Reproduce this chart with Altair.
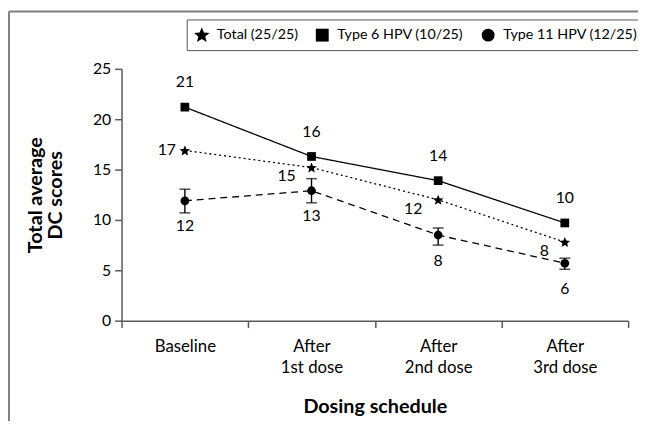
import altair as alt
import pandas as pd

# ---- data ----
doses = ["Baseline", "After|1st dose", "After|2nd dose", "After|3rd dose"]
series_names = ["Total (25/25)", "Type 6 HPV (10/25)", "Type 11 HPV (12/25)"]

total_vals = [16.9, 15.2, 12.0, 7.8]
type6_vals = [21.2, 16.3, 13.9, 9.7]
type11_vals = [11.9, 12.9, 8.5, 5.7]
type11_lo = [10.7, 11.7, 7.5, 5.1]
type11_hi = [13.05, 14.1, 9.2, 6.2]

total_labels = ["17", "15", "12", "8"]
type6_labels = ["21", "16", "14", "10"]
type11_labels = ["12", "13", "8", "6"]

rows = []
for name, vals, labs in zip(series_names,
                            [total_vals, type6_vals, type11_vals],
                            [total_labels, type6_labels, type11_labels]):
    for d, v, l in zip(doses, vals, labs):
        rows.append({"dose": d, "series": name, "value": v, "label": l})
df = pd.DataFrame(rows)

err_df = pd.DataFrame({"dose": doses, "lo": type11_lo, "hi": type11_hi})

FONT = "Lato"
AX = "#595959"
STAR = ("M0,-1.149 L0.337,-0.342 L1.208,-0.272 L0.544,0.297 L0.747,1.148 "
        "L0,0.692 L-0.747,1.148 L-0.544,0.297 L-1.208,-0.272 L-0.337,-0.342 Z")

x_enc = alt.X(
    "dose:N", sort=doses, bandPosition=0.5,
    scale=alt.Scale(type="band", paddingInner=0, paddingOuter=0),
    axis=alt.Axis(
        title="Dosing schedule", tickBand="extent", labelAngle=0,
        labelExpr="split(datum.label, '|')", labelLineHeight=22,
        labelFontSize=17, labelPadding=11, tickSize=7,
        titleFontSize=20, titleFontWeight="bold", titlePadding=21,
    ),
)
y_enc = alt.Y(
    "value:Q",
    scale=alt.Scale(domain=[0, 25], nice=False),
    axis=alt.Axis(
        title=["Total average", "DC scores"], values=[0, 5, 10, 15, 20, 25],
        labelFontSize=16, labelPadding=4, tickSize=7,
        titleFontSize=20, titleFontWeight="bold", titlePadding=27,
        titleLineHeight=21,
    ),
)

base = alt.Chart(df)


def series_line(name, dash):
    return base.transform_filter(alt.datum.series == name).mark_line(
        color="black", strokeWidth=1.3, strokeDash=dash
    ).encode(x=x_enc, y=y_enc)


line_total = series_line(series_names[0], [2, 3])
line_t6 = series_line(series_names[1], [1, 0])
line_t11 = series_line(series_names[2], [7, 5])

points = base.mark_point(filled=True, color="black", opacity=1, size=78).encode(
    x=x_enc, y=y_enc,
    shape=alt.Shape(
        "series:N",
        scale=alt.Scale(domain=series_names, range=[STAR, "square", "circle"]),
        legend=alt.Legend(
            title=None, orient="none", legendX=66, legendY=-50,
            direction="horizontal", strokeColor="#555555", padding=8,
            symbolFillColor="black", symbolStrokeColor="black",
            symbolStrokeWidth=0, symbolSize=170, symbolOpacity=1,
            labelFont=FONT, labelFontSize=14.5, labelColor="black",
            labelOffset=8, columnPadding=17,
        ),
    ),
)

err_base = alt.Chart(err_df)
err_rule = err_base.mark_rule(color="black", strokeWidth=1.4).encode(
    x=alt.X("dose:N", sort=doses, bandPosition=0.5), y="lo:Q", y2="hi:Q"
)
cap_lo = err_base.mark_tick(color="black", size=11, thickness=1.5).encode(
    x=alt.X("dose:N", sort=doses), y="lo:Q"
)
cap_hi = err_base.mark_tick(color="black", size=11, thickness=1.5).encode(
    x=alt.X("dose:N", sort=doses), y="hi:Q"
)

txt = dict(font=FONT, fontSize=16, color="black")
lab6 = base.transform_filter(alt.datum.series == series_names[1]).mark_text(
    dy=-25, **txt).encode(x=x_enc, y=y_enc, text="label:N")
lab11 = base.transform_filter(alt.datum.series == series_names[2]).mark_text(
    dy=26, **txt).encode(x=x_enc, y=y_enc, text="label:N")
labT0 = base.transform_filter(
    (alt.datum.series == series_names[0]) & (alt.datum.dose == doses[0])
).mark_text(align="right", dx=-9, dy=0, **txt).encode(x=x_enc, y=y_enc, text="label:N")
labT = base.transform_filter(
    (alt.datum.series == series_names[0]) & (alt.datum.dose != doses[0])
).mark_text(align="right", dx=-16, dy=9, **txt).encode(x=x_enc, y=y_enc, text="label:N")

frame_data = alt.Data(values=[{}])
frame_left = alt.Chart(frame_data).mark_rule(color="#808080", strokeWidth=2).encode(
    x=alt.value(-114), y=alt.value(-58), y2=alt.value(360)
)
frame_top = alt.Chart(frame_data).mark_rule(color="#808080", strokeWidth=2).encode(
    x=alt.value(-114), x2=alt.value(530), y=alt.value(-58)
)

chart = alt.layer(
    frame_left, frame_top, line_total, line_t6, line_t11,
    err_rule, cap_lo, cap_hi, points,
    lab6, lab11, labT0, labT,
).properties(
    width=513, height=255, background="white",
    autosize=alt.AutoSizeParams(type="none"),
    padding={"left": 115, "top": 59, "right": 10, "bottom": 99},
).configure_view(stroke=None).configure_axis(
    labelFont=FONT, titleFont=FONT, labelColor="black", titleColor="black",
    domainColor=AX, tickColor=AX, domainWidth=1.5, tickWidth=1.5, grid=False,
)

chart.save("out.html", embed_options={"renderer": "svg", "actions": False})
